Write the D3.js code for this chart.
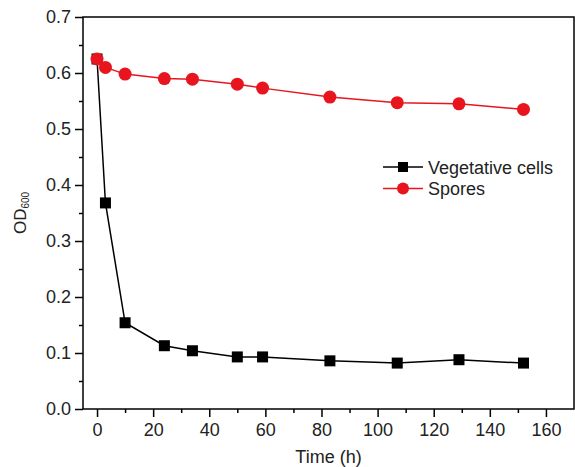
<!DOCTYPE html>
<html>
<head>
<meta charset="utf-8">
<script src="https://cdn.jsdelivr.net/npm/d3@7"></script>
<style>
  body { margin: 0; background: #fff; }
  text { font-family: "Liberation Sans", Arial, sans-serif; fill: #222; }
</style>
</head>
<body>
<svg width="575" height="467"></svg>
<script>
// Time points (h) and OD600 readings
const times = [0, 3, 10, 24, 34, 50, 59, 83, 107, 129, 152];
const vegetative = [0.625, 0.368, 0.154, 0.113, 0.104, 0.093, 0.093, 0.086, 0.082, 0.088, 0.082];
const spores = [0.625, 0.610, 0.598, 0.590, 0.589, 0.580, 0.573, 0.557, 0.547, 0.545, 0.535];
const seriesNames = ["Vegetative cells", "Spores"];
const xTicks = [0, 20, 40, 60, 80, 100, 120, 140, 160];
const yTicks = [0.0, 0.1, 0.2, 0.3, 0.4, 0.5, 0.6, 0.7];

const svg = d3.select("svg");
const margin = {left: 83, right: 1, top: 17, bottom: 58};
const width = 575, height = 467;

const x = d3.scaleLinear().domain([-5, 170]).range([margin.left, width - margin.right]);
const y = d3.scaleLinear().domain([0, 0.7]).range([height - margin.bottom, margin.top]);

// frame
svg.append("rect")
    .attr("x", x(-5)).attr("y", y(0.7))
    .attr("width", x(170) - x(-5)).attr("height", y(0) - y(0.7))
    .attr("fill", "none").attr("stroke", "#000").attr("stroke-width", 1.5);

// x axis with minor ticks
let xMinor = d3.range(10, 170, 20);
let gx = svg.append("g").attr("transform", `translate(0,${y(0)})`);
gx.call(d3.axisBottom(x).tickValues(xTicks).tickSize(8).tickPadding(6).tickFormat(d3.format("d")));
gx.append("g").call(d3.axisBottom(x).tickValues(xMinor).tickSize(4).tickFormat(""));
gx.selectAll(".domain").remove();
gx.selectAll("line").attr("stroke", "#000").attr("stroke-width", 1.5);
gx.selectAll("text").style("font-size", "18px").attr("fill", "#222");

// y axis with minor ticks
let yMinor = d3.range(0.05, 0.7, 0.1);
let gy = svg.append("g").attr("transform", `translate(${x(-5)},0)`);
gy.call(d3.axisLeft(y).tickValues(yTicks).tickSize(8).tickPadding(4).tickFormat(d3.format(".1f")));
gy.append("g").call(d3.axisLeft(y).tickValues(yMinor).tickSize(4).tickFormat(""));
gy.selectAll(".domain").remove();
gy.selectAll("line").attr("stroke", "#000").attr("stroke-width", 1.5);
gy.selectAll("text").style("font-size", "18px").attr("fill", "#222");

// axis titles
svg.append("text")
    .attr("x", (x(-5) + x(170)) / 2).attr("y", 463)
    .attr("text-anchor", "middle").style("font-size", "18px")
    .text("Time (h)");

let ylab = svg.append("text")
    .attr("transform", `translate(26,${(y(0) + y(0.7)) / 2}) rotate(-90)`)
    .attr("text-anchor", "middle").style("font-size", "17px");
ylab.append("tspan").text("OD");
ylab.append("tspan").attr("dy", 3).style("font-size", "10px").text("600");

// lines and markers
const line = d3.line().x((d, i) => x(times[i])).y(d => y(d));

svg.append("path").datum(vegetative)
    .attr("d", line).attr("fill", "none").attr("stroke", "#000").attr("stroke-width", 1.5);
svg.selectAll(".veg").data(vegetative).enter().append("rect")
    .attr("class", "veg")
    .attr("x", (d, i) => x(times[i]) - 5.5).attr("y", d => y(d) - 5.5)
    .attr("width", 11).attr("height", 11).attr("fill", "#000");

svg.append("path").datum(spores)
    .attr("d", line).attr("fill", "none").attr("stroke", "#e8151f").attr("stroke-width", 1.5);
svg.selectAll(".spore").data(spores).enter().append("circle")
    .attr("class", "spore")
    .attr("cx", (d, i) => x(times[i])).attr("cy", d => y(d))
    .attr("r", 6.5).attr("fill", "#e8151f");

// legend
let legend = svg.append("g");
const legendColors = ["#000", "#e8151f"];
seriesNames.forEach(function(name, i) {
    let ly = 167 + i * 21.5;
    legend.append("line")
        .attr("x1", 383).attr("x2", 423).attr("y1", ly).attr("y2", ly)
        .attr("stroke", legendColors[i]).attr("stroke-width", 1.5);
    if (i == 0) {
        legend.append("rect").attr("x", 398).attr("y", ly - 5).attr("width", 10).attr("height", 10).attr("fill", "#000");
    } else {
        legend.append("circle").attr("cx", 403).attr("cy", ly).attr("r", 6).attr("fill", legendColors[i]);
    }
    legend.append("text")
        .attr("x", 428).attr("y", ly + 6.5)
        .style("font-size", "18px")
        .text(name);
});
</script>
</body>
</html>
